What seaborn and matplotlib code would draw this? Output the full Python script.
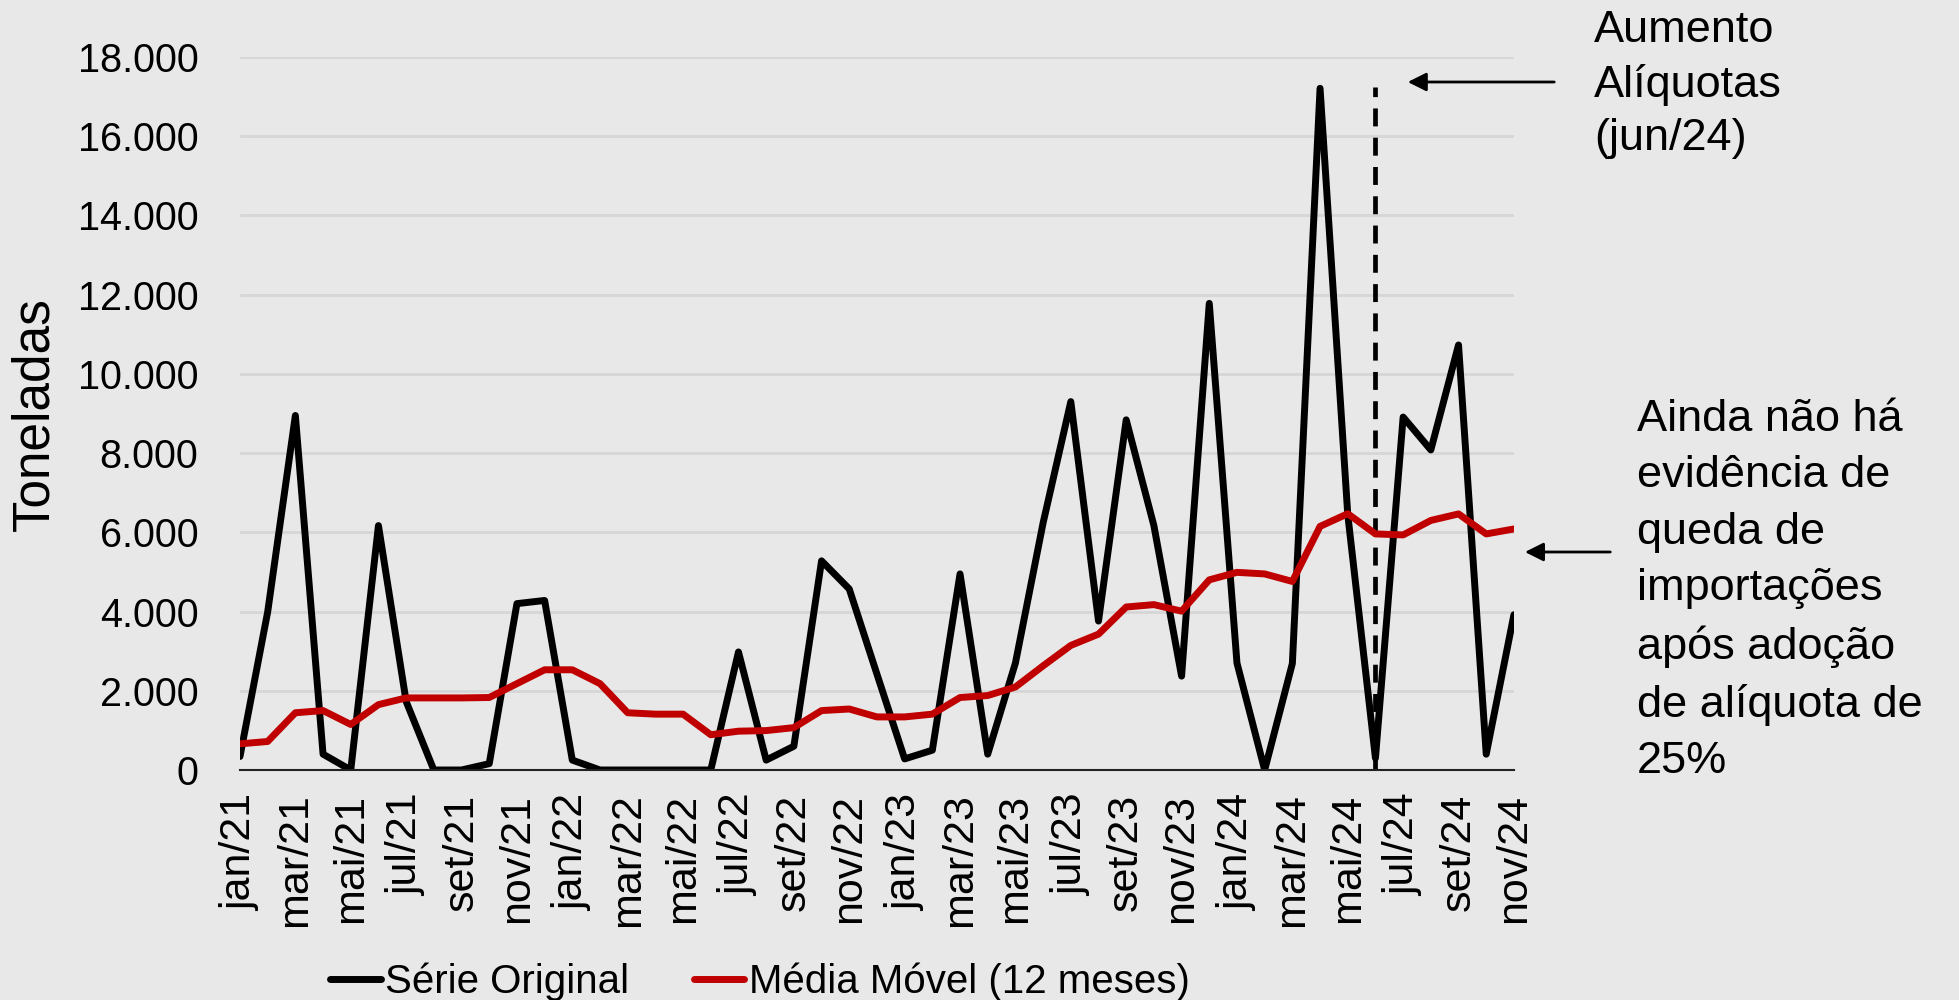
import pandas as pd
import numpy as np
import matplotlib
matplotlib.use("Agg")
import matplotlib.pyplot as plt
import seaborn as sns

# meses jan/21 .. nov/24
meses_pt = ["jan", "fev", "mar", "abr", "mai", "jun", "jul", "ago", "set", "out", "nov", "dez"]
meses = [f"{m}/{a}" for a in ["21", "22", "23", "24"] for m in meses_pt][:47]

serie_original = [340, 3990, 8950, 400, 0, 6170, 1730, 0, 0, 160, 4200, 4280,
                  250, 0, 0, 0, 0, 0, 2980, 250, 600, 5280, 4570, 2420,
                  280, 500, 4950, 400, 2700, 6240, 9300, 3760, 8840, 6170, 2370, 11780,
                  2700, 0, 2690, 17210, 6450, 300, 8910, 8080, 10730, 400, 3920]
media_movel = [660, 720, 1445, 1500, 1150, 1650, 1820, 1820, 1820, 1830, 2180, 2530,
               2530, 2180, 1445, 1410, 1410, 890, 980, 995, 1070, 1500, 1540, 1340,
               1340, 1410, 1830, 1880, 2095, 2630, 3145, 3430, 4115, 4175, 4010, 4800,
               4990, 4950, 4760, 6150, 6470, 5960, 5935, 6300, 6465, 5960, 6085]

mes_aliquota = "jun/24"
topo_linha = 17250
yticks = list(range(0, 18001, 2000))

df = pd.DataFrame({"idx": range(len(meses)), "mes": meses,
                   "original": serie_original, "mm": media_movel})

sns.set_theme(style="white")
bg = "#e8e8e8"
plt.rcParams["font.family"] = ["Liberation Sans", "DejaVu Sans"]
plt.rcParams["text.color"] = "black"

fig = plt.figure(figsize=(19.59, 10), dpi=100, facecolor=bg)
ax = fig.add_axes([0.1225, 0.23, 0.6503, 0.713])
ax.set_facecolor(bg)

sns.lineplot(data=df, x="idx", y="original", color="black", linewidth=5, ax=ax,
             label="Série Original", legend=False)
sns.lineplot(data=df, x="idx", y="mm", color="#c00000", linewidth=5, ax=ax,
             label="Média Móvel (12 meses)", legend=False)

xi = meses.index(mes_aliquota)
ax.plot([xi, xi], [0, topo_linha], color="black", lw=3.4, ls=(0, (3.8, 2.4)), zorder=1)

ax.set_xlim(0, len(meses) - 1)
ax.set_ylim(0, 18000)
ax.set_yticks(yticks)
ax.set_yticklabels([f"{v:,.0f}".replace(",", ".") for v in yticks])
ax.set_xticks(df["idx"][::2])
ax.set_xticklabels(df["mes"][::2], rotation=90)
ax.grid(axis="y", color="#d6d6d6", lw=2)
ax.set_axisbelow(True)
for s in ["left", "right", "top"]:
    ax.spines[s].set_visible(False)
ax.spines["bottom"].set_color("#222222")
ax.spines["bottom"].set_linewidth(1.5)
ax.tick_params(axis="y", length=0, pad=30, labelsize=28.5, labelcolor="black")
ax.tick_params(axis="x", direction="in", length=9, width=1.5, color="#222222",
               pad=17, labelsize=31, labelcolor="black")
ax.set_xlabel("")
ax.set_ylabel("")
fig.text(35 / 1959, 1 - 414 / 1000, "Toneladas", rotation=90, ha="center", va="center",
         fontsize=37, color="black")

# anotações
ax.annotate("", xy=(0.7172, 0.918), xytext=(0.7948, 0.918), xycoords="figure fraction",
            arrowprops=dict(arrowstyle="-|>", color="black", lw=2, mutation_scale=28))
ax.annotate("", xy=(0.777, 0.448), xytext=(0.8234, 0.448), xycoords="figure fraction",
            arrowprops=dict(arrowstyle="-|>", color="black", lw=2, mutation_scale=28))
fig.text(0.8137, 0.99, "Aumento\nAlíquotas\n(jun/24)", ha="left", va="top",
         fontsize=32.5, linespacing=1.39, color="black")
fig.text(0.8356, 0.601, "Ainda não há\nevidência de\nqueda de\nimportações\napós adoção\nde alíquota de\n25%",
         ha="left", va="top", fontsize=32.5, linespacing=1.48, color="black")

h, l = ax.get_legend_handles_labels()
leg = fig.legend(h, l, loc="center", bbox_to_anchor=(0.388, 0.018), ncol=2, frameon=False,
                 fontsize=29, handlelength=1.25, handletextpad=0.12, columnspacing=1.6)
for t in leg.get_texts():
    t.set_color("black")

fig.savefig("out.png", dpi=100, facecolor=bg)
